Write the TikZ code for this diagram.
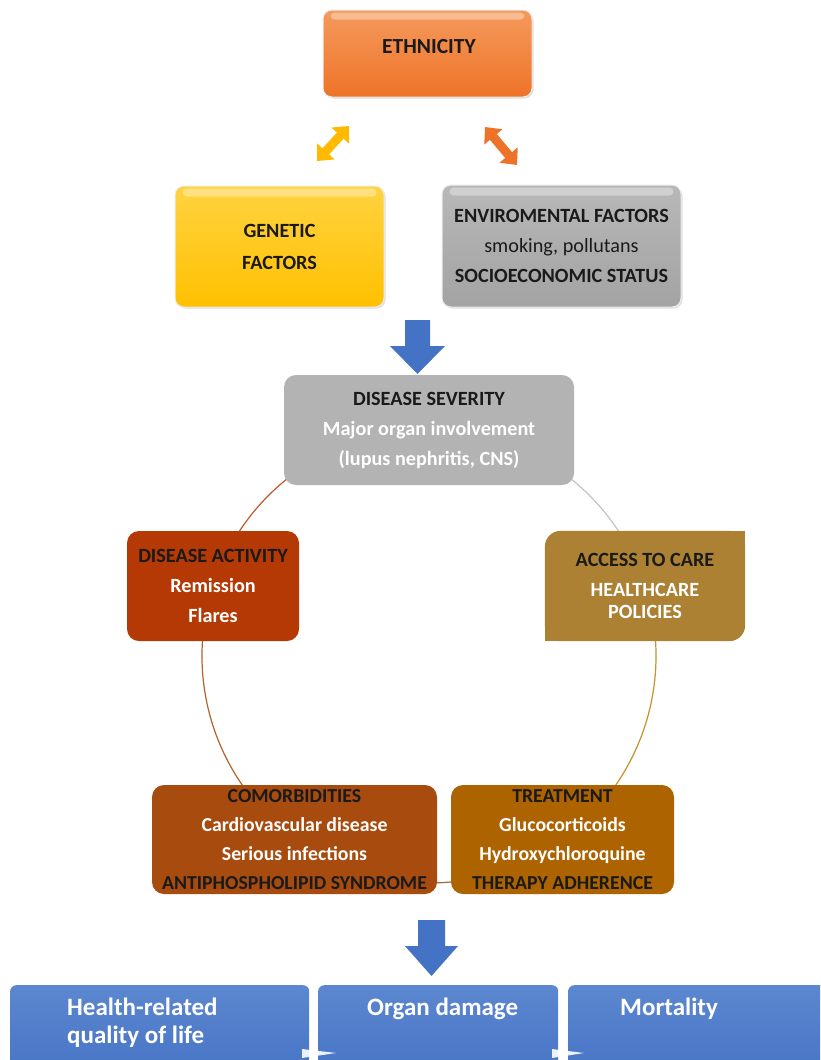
\documentclass[tikz,border=0pt]{standalone}
\usepackage{fontspec}
\setmainfont{Carlito}
\usetikzlibrary{arrows.meta,calc,shadows}
\definecolor{ethc}{HTML}{EE7328}
\definecolor{ethl}{HTML}{F59A5C}
\definecolor{genc}{HTML}{FFC000}
\definecolor{genl}{HTML}{FFD340}
\definecolor{envc}{HTML}{A3A3A3}
\definecolor{envl}{HTML}{B8B8B8}
\definecolor{sevc}{HTML}{B3B3B3}
\definecolor{actc}{HTML}{B53905}
\definecolor{accc}{HTML}{AC8133}
\definecolor{comc}{HTML}{A84B0E}
\definecolor{trtc}{HTML}{AC6300}
\definecolor{bluec}{HTML}{4472C4}
\definecolor{bluel}{HTML}{5C87D0}
\definecolor{arcA}{HTML}{C2582A}
\definecolor{arcB}{HTML}{C4C4C4}
\definecolor{arcC}{HTML}{C4922F}
\definecolor{arcD}{HTML}{9E6B3C}
\definecolor{arcE}{HTML}{B5622C}
\definecolor{txtdark}{HTML}{1A1A1A}
\tikzset{
  boxfont/.style={font=\fontsize{20.2}{30}\selectfont\bfseries},
  anybox/.style={boxfont, align=center, inner sep=0pt, text=txtdark},
  glossbox/.style={anybox, rounded corners=9pt, draw=white!85!gray, line width=1pt,
     drop shadow={shadow xshift=1.5pt, shadow yshift=-1.5pt, opacity=.25}},
  flatbox/.style={anybox, rounded corners=12pt},
  outbox/.style={rounded corners=6pt, top color=bluel, bottom color=bluec, inner sep=0pt, anchor=north west},
  outtext/.style={font=\fontsize{25}{28}\selectfont\bfseries, text=white, align=left, inner sep=0pt, anchor=base west},
  circarc/.style={line width=1.2pt},
  dblarrow/.style={line width=9pt, {Triangle[width=23pt,length=13pt]}-{Triangle[width=23pt,length=13pt]}},
  blockarrow/.style={fill=bluec},
  gloss/.style={fill=white, opacity=.35, rounded corners=4pt}
}
\begin{document}
\begin{tikzpicture}[x=1pt,y=-1pt]
\path[use as bounding box, clip] (0,0) rectangle (820,1060);
\fill[white] (0,0) rectangle (820,1060);

% ring of arcs behind the boxes
\coordinate (ctr) at (429,656);
\draw[circarc, arcA] ($(ctr)+(-165:227)$) arc[start angle=-165, end angle=-100, radius=227];
\draw[circarc, arcB] ($(ctr)+(-80:227)$) arc[start angle=-80, end angle=-20, radius=227];
\draw[circarc, arcC] ($(ctr)+(-20:227)$) arc[start angle=-20, end angle=60, radius=227];
\draw[circarc, arcD] ($(ctr)+(60:227)$) arc[start angle=60, end angle=120, radius=227];
\draw[circarc, arcE] ($(ctr)+(120:227)$) arc[start angle=120, end angle=195, radius=227];

% top boxes
\node[glossbox, top color=ethl, bottom color=ethc, minimum width=209pt, minimum height=87pt] (eth) at (427.5,53.5) {};
\fill[gloss] ($(eth.north west)+(8,3)$) rectangle ($(eth.north east)+(-8,10)$);
\node[anybox, font=\fontsize{21.5}{26}\selectfont\bfseries] (etht) at (429,47) {ETHNICITY};

\node[glossbox, top color=genl, bottom color=genc, minimum width=209pt, minimum height=121pt] (gen) at (279.5,246.5) {GENETIC\\[2pt] FACTORS};
\fill[gloss] ($(gen.north west)+(8,3)$) rectangle ($(gen.north east)+(-8,11)$);

\node[glossbox, top color=envl, bottom color=envc, minimum width=239pt, minimum height=122pt] (env) at (561.5,246) {ENVIROMENTAL FACTORS\\ {\mdseries smoking, pollutans}\\ SOCIOECONOMIC STATUS};
\fill[gloss] ($(env.north west)+(8,3)$) rectangle ($(env.north east)+(-8,11)$);

% double arrows
\coordinate (ya) at (317,161);
\coordinate (yb) at (349,126);
\coordinate (oa) at (485,127);
\coordinate (ob) at (517,165);
\draw[dblarrow, color=genc!90!orange] (ya) -- (yb);
\draw[dblarrow, color=ethc] (oa) -- (ob);

% blue arrow 1
\fill[blockarrow] (405,320) -- (430,320) -- (430,346) -- (445,346) -- (417.5,374) -- (390,346) -- (405,346) -- cycle;

% severity
\node[flatbox, fill=sevc, minimum width=290pt, minimum height=110pt] (sev) at (429,430)
  {DISEASE SEVERITY\\ {\color{white}Major organ involvement}\\ {\color{white}(lupus nephritis, CNS)}};

% activity
\node[flatbox, fill=actc, minimum width=172pt, minimum height=110pt] (act) at (213,586)
  {DISEASE ACTIVITY\\ {\color{white}Remission}\\ {\color{white}Flares}};

% access to care (two rounded corners)
\node[anybox, minimum width=200pt, minimum height=110pt] (acc) at (645,586) {};
\fill[accc, rounded corners=16pt] (acc.north west) rectangle (acc.south east);
\fill[accc] ($(acc.north east)+(-20,0)$) rectangle ($(acc.north east)+(0,20)$);
\fill[accc] ($(acc.south west)+(0,-20)$) rectangle ($(acc.south west)+(20,0)$);
\node[anybox] (acct) at (acc.center)
  {ACCESS TO CARE\\ {\color{white}HEALTHCARE}\\[-8pt] {\color{white}POLICIES}};

% comorbidities and treatment
\node[flatbox, fill=comc, minimum width=285pt, minimum height=109pt, font=\fontsize{19.8}{29}\selectfont\bfseries] (com) at (294.5,839.5)
  {COMORBIDITIES\\ {\color{white}Cardiovascular disease}\\ {\color{white}Serious infections}\\ ANTIPHOSPHOLIPID SYNDROME};
\node[flatbox, fill=trtc, minimum width=223pt, minimum height=109pt, font=\fontsize{19.8}{29}\selectfont\bfseries] (trt) at (562.5,839.5)
  {TREATMENT\\ {\color{white}Glucocorticoids}\\ {\color{white}Hydroxychloroquine}\\ THERAPY ADHERENCE};

% blue arrow 2
\fill[blockarrow] (418,920) -- (445,920) -- (445,946) -- (458,946) -- (431.5,976) -- (405,946) -- (418,946) -- cycle;

% outcome boxes
\node[outbox, minimum width=299pt, minimum height=100pt] (o1) at (10,985) {};
\node[outbox, minimum width=240pt, minimum height=100pt] (o2) at (318,985) {};
\node[outbox, minimum width=262pt, minimum height=100pt] (o3) at (568,985) {};
\node[outtext] (t1) at (67,1015) {Health-related};
\node[outtext] (t1b) at (67,1043) {quality of life};
\node[outtext] (t2) at (367,1015) {Organ damage};
\node[outtext] (t3) at (620,1015) {Mortality};
\fill[white, opacity=.9] (302,1049) -- (336,1053) -- (302,1058) -- cycle;
\fill[white, opacity=.9] (552,1049) -- (584,1053) -- (552,1058) -- cycle;
\end{tikzpicture}
\end{document}
